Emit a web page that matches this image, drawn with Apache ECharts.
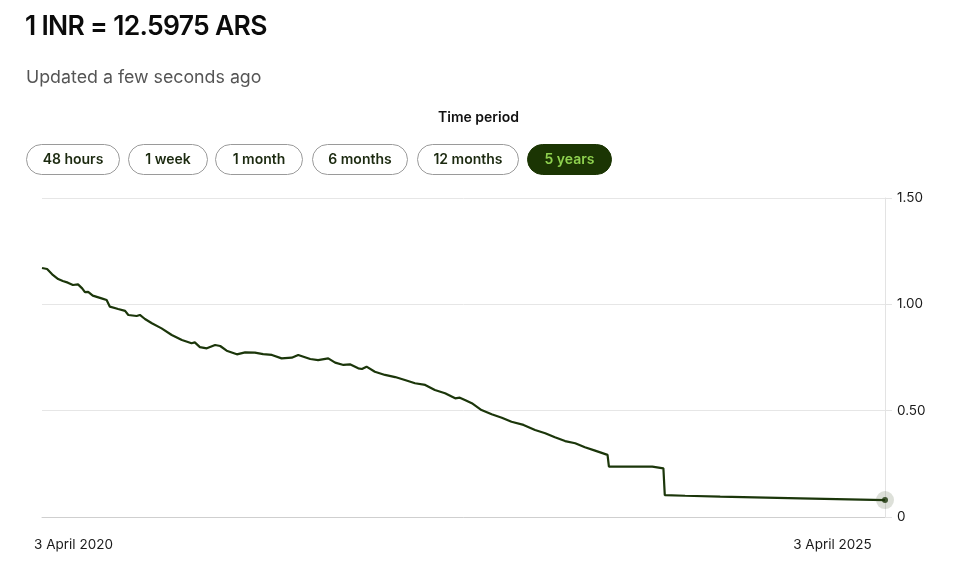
<!DOCTYPE html>
<html>
<head>
<meta charset="utf-8">
<script src="https://cdn.jsdelivr.net/npm/echarts@6/dist/echarts.min.js"></script>
<style>
  html, body { margin:0; padding:0; background:#fff; }
  body { width:967px; height:570px; position:relative; overflow:hidden; font-family: Inter, "Noto Sans", sans-serif; }
  #chart { position:absolute; left:0; top:0; width:967px; height:570px; }
  .title { position:absolute; left:25px; top:8px; font-size:26.5px; font-weight:600; color:#0b0b0b; letter-spacing:-0.7px; line-height:34px; white-space:nowrap; }
  .sub { position:absolute; left:26px; top:65px; font-size:17.8px; color:#555; line-height:24px; white-space:nowrap; }
  .period { position:absolute; left:0; width:957px; text-align:center; top:108px; font-size:14px; font-weight:600; color:#111; line-height:18px; }
  .pill { position:absolute; top:144px; height:29px; border:1px solid #9a9a9a; border-radius:16px; box-sizing:content-box; font-size:14px; font-weight:600; color:#1c2a10; text-align:center; line-height:28px; white-space:nowrap; }
  .pill.active { background:#1b3503; border-color:#1b3503; color:#8fd14f; }
</style>
</head>
<body>
<div id="chart"></div>
<div id="hdr"></div>
<script>
// ---------- data ----------
const titleText = '1 INR = 12.5975 ARS';
const updatedText = 'Updated a few seconds ago';
const periodLabel = 'Time period';
const periodButtons = ['48 hours', '1 week', '1 month', '6 months', '12 months', '5 years'];
const activePeriod = '5 years';

const dates = [
  '2020-04-03','2020-04-07','2020-04-14','2020-04-25','2020-05-08','2020-05-18','2020-05-29','2020-06-09',
  '2020-06-20','2020-06-29','2020-07-05','2020-07-12','2020-07-22','2020-08-10','2020-08-21','2020-08-28',
  '2020-09-15','2020-09-30','2020-10-07','2020-10-25','2020-11-01','2020-11-12','2020-11-27','2020-12-18',
  '2021-01-09','2021-01-31','2021-02-21','2021-02-28','2021-03-11','2021-03-26','2021-04-13','2021-04-24',
  '2021-05-08','2021-05-30','2021-06-17','2021-07-08','2021-07-26','2021-08-14','2021-09-04','2021-09-26',
  '2021-10-10','2021-11-05','2021-11-22','2021-12-14','2021-12-29','2022-01-16','2022-01-30','2022-02-17',
  '2022-02-25','2022-03-07','2022-03-25','2022-04-16','2022-05-08','2022-05-29','2022-06-20','2022-07-12',
  '2022-08-02','2022-08-24','2022-09-15','2022-09-25','2022-10-06','2022-10-21','2022-11-11','2022-12-03',
  '2022-12-25','2023-01-15','2023-02-10','2023-03-07','2023-03-29','2023-04-19','2023-05-11','2023-06-02',
  '2023-06-23','2023-07-15','2023-08-11','2023-08-14','2023-11-16','2023-12-10','2023-12-13','2024-01-26',
  '2024-04-11','2024-10-01','2025-04-03'
];
const rates = [
  1.171,1.173,1.166,1.141,1.119,1.110,1.102,1.091,
  1.094,1.075,1.057,1.059,1.041,1.028,1.020,0.989,
  0.978,0.969,0.950,0.945,0.950,0.931,0.911,0.887,
  0.856,0.832,0.817,0.821,0.799,0.793,0.809,0.804,
  0.782,0.765,0.774,0.773,0.766,0.762,0.746,0.749,
  0.762,0.743,0.738,0.746,0.726,0.715,0.718,0.699,
  0.696,0.707,0.683,0.668,0.658,0.644,0.629,0.621,
  0.597,0.582,0.558,0.561,0.550,0.535,0.503,0.483,
  0.467,0.448,0.433,0.409,0.394,0.375,0.357,0.347,
  0.328,0.312,0.292,0.237,0.237,0.229,0.103,0.100,
  0.096,0.088,0.0794
];
const xStart = '2020-04-03';
const xEnd = '2025-04-03';
const xTickLabels = ['3 April 2020', '3 April 2025'];
const yTicks = [0, 0.5, 1.0, 1.5];
const yTickLabels = ['0', '0.50', '1.00', '1.50'];

// ---------- header (HTML text) ----------
const hdr = document.getElementById('hdr');
const pillBoxes = [[26, 92], [128, 78], [215, 86], [312, 94], [417, 100], [527, 83]];
hdr.innerHTML =
  '<div class="title">' + titleText + '</div>' +
  '<div class="sub">' + updatedText + '</div>' +
  '<div class="period">' + periodLabel + '</div>' +
  periodButtons.map((b, i) => '<div class="pill' + (b === activePeriod ? ' active' : '') +
    '" style="left:' + pillBoxes[i][0] + 'px;width:' + pillBoxes[i][1] + 'px">' + b + '</div>').join('');

// ---------- chart ----------
const t = s => Date.parse(s + 'T00:00:00Z');
const xMin = t(xStart), xMax = t(xEnd);
const seriesData = dates.map((d, i) => [t(d), rates[i]]);
const last = seriesData[seriesData.length - 1];

const plotLeft = 42, plotRight = 885;
const msPerPx = (xMax - xMin) / (plotRight - plotLeft);
// label centres: first label sits slightly right of start, last label slightly left of end
const labelValues = [xMin + 31.5 * msPerPx, xMax - 52.5 * msPerPx];

const chart = echarts.init(document.getElementById('chart'), null, { renderer: 'canvas' });
chart.setOption({
  animation: false,
  grid: { left: plotLeft, right: 967 - plotRight, top: 198, bottom: 53, containLabel: false },
  xAxis: {
    type: 'value',
    min: xMin, max: xMax,
    axisLine: { show: true, lineStyle: { color: '#cfcfcf', width: 1 } },
    axisTick: { show: false },
    splitLine: { show: false },
    axisLabel: {
      customValues: labelValues,
      formatter: (v) => {
        const i = labelValues.findIndex(x => Math.abs(x - v) < msPerPx);
        return i >= 0 ? xTickLabels[i] : '';
      },
      color: '#1a1a1a', fontSize: 13.5, fontFamily: 'Inter', margin: 21
    }
  },
  yAxis: {
    type: 'value',
    position: 'right',
    min: 0, max: 1.5, interval: 0.5,
    axisLine: { show: true, lineStyle: { color: '#e3e3e3', width: 1 } },
    axisTick: { show: true, length: 7, lineStyle: { color: '#e3e3e3' } },
    splitLine: { show: true, lineStyle: { color: '#e6e6e6', width: 1 } },
    axisLabel: {
      margin: 12,
      color: '#1a1a1a', fontSize: 13.5, fontFamily: 'Inter',
      formatter: (v) => { const i = yTicks.findIndex(x => Math.abs(x - v) < 1e-9); return i >= 0 ? yTickLabels[i] : ''; }
    }
  },
  series: [
    {
      type: 'line', data: seriesData, showSymbol: false, symbol: 'none',
      lineStyle: { color: '#1b360a', width: 2.2 }, z: 3
    },
    {
      type: 'scatter', data: [last], symbolSize: 18,
      itemStyle: { color: 'rgba(60,80,40,0.22)' }, z: 4, silent: true
    },
    {
      type: 'scatter', data: [last], symbolSize: 6,
      itemStyle: { color: '#1b360a' }, z: 5, silent: true
    }
  ]
});
</script>
</body>
</html>
